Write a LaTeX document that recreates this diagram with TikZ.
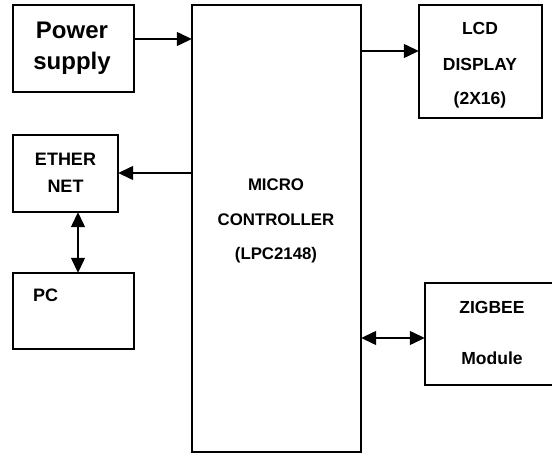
\documentclass[tikz,border=0pt]{standalone}
\usepackage{fontspec}
\setmainfont{Liberation Sans}
\usetikzlibrary{arrows.meta}
\begin{document}
\begin{tikzpicture}[x=1pt,y=-1pt,
  box/.style={draw,line width=1.4pt},
  lbl/.style={font=\bfseries\fontsize{16.5}{16.5}\selectfont,inner sep=0pt,anchor=center},
  big/.style={font=\bfseries\fontsize{24}{24}\selectfont},
  mid/.style={font=\bfseries\fontsize{18}{18}\selectfont},
  arr/.style={line width=1.3pt,-{Triangle[length=15pt,width=14pt]}},
  darr/.style={line width=1.3pt,{Triangle[length=15pt,width=14pt]}-{Triangle[length=15pt,width=14pt]}}]
\useasboundingbox (0,0) rectangle (552,454);
\begin{scope}
\clip (0,0) rectangle (552,454);
\node[minimum width=121pt,minimum height=87pt,inner sep=0pt] (ps) at (73.5,48.5) {};
\draw[box] (13,5) rectangle (134,92);
\node[minimum width=169pt,minimum height=447pt,inner sep=0pt] (mcu) at (276.5,228.5) {};
\draw[box] (192,5) rectangle (361,452);
\node[minimum width=123pt,minimum height=113pt,inner sep=0pt] (lcd) at (480.5,61.5) {};
\draw[box] (419,5) rectangle (542,118);
\node[minimum width=105pt,minimum height=77pt,inner sep=0pt] (eth) at (65.5,173.5) {};
\draw[box] (13,135) rectangle (118,212);
\node[minimum width=121pt,minimum height=76pt,inner sep=0pt] (pc) at (73.5,311) {};
\draw[box] (13,273) rectangle (134,349);
\node[minimum width=130pt,minimum height=102pt,inner sep=0pt] (zig) at (490,334) {};
\draw[box] (555,283) -- (425,283) -- (425,385) -- (555,385);
\end{scope}
% texts
\node[lbl,big] (t1) at (72,30) {Power};
\node[lbl,big] (t2) at (72,63) {supply};
\node[lbl,font=\bfseries\fontsize{16.8}{16.8}\selectfont] (t3) at (276,185) {MICRO};
\node[lbl,font=\bfseries\fontsize{16.8}{16.8}\selectfont] (t4) at (276,220) {CONTROLLER};
\node[lbl,font=\bfseries\fontsize{16.8}{16.8}\selectfont] (t5) at (276,255) {(LPC2148)};
\node[lbl,font=\bfseries\fontsize{17.5}{17.5}\selectfont] (t6) at (480,28) {LCD};
\node[lbl,font=\bfseries\fontsize{17.5}{17.5}\selectfont] (t7) at (480,64) {DISPLAY};
\node[lbl,font=\bfseries\fontsize{17.5}{17.5}\selectfont] (t8) at (480,100) {(2X16)};
\node[lbl,mid] (t9) at (65.5,159) {ETHER};
\node[lbl,mid] (t10) at (65.5,186) {NET};
\node[lbl,mid,anchor=west] (t11) at (33,295) {PC};
\node[lbl,font=\bfseries\fontsize{17.5}{17.5}\selectfont] (t12) at (492,307) {ZIGBEE};
\node[lbl,font=\bfseries\fontsize{17.5}{17.5}\selectfont] (t13) at (492,358) {Module};
% connectors
\draw[arr] (ps.east |- 0,39) -- (mcu.west |- 0,39);
\draw[arr] (mcu.east |- 0,51) -- (lcd.west |- 0,51);
\draw[arr] (mcu.west |- 0,173) -- (eth.east |- 0,173);
\draw[darr] (eth.south -| 78,0) -- (pc.north -| 78,0);
\draw[darr] (mcu.east |- 0,338) -- (zig.west |- 0,338);
\end{tikzpicture}
\end{document}
